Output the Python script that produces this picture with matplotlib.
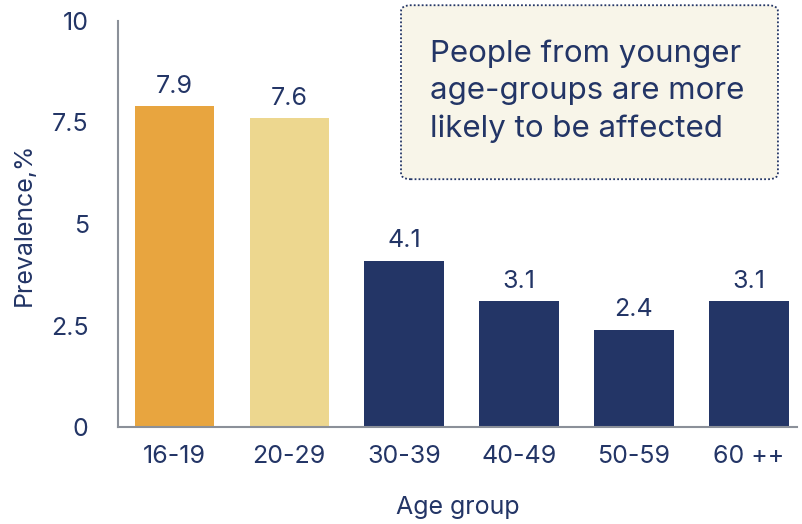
import matplotlib
matplotlib.use("Agg")
import matplotlib.pyplot as plt
from matplotlib.patches import FancyBboxPatch

plt.rcParams.update({
    "font.family": ["Inter", "DejaVu Sans"],
    "figure.facecolor": "white",
    "axes.facecolor": "white",
})

NAVY = "#233566"
AXIS_GRAY = "#8b9099"

age_groups = ["16-19", "20-29", "30-39", "40-49", "50-59", "60 ++"]
prevalence = [7.9, 7.6, 4.1, 3.1, 2.4, 3.1]
bar_colors = ["#E8A53F", "#EDD78F", NAVY, NAVY, NAVY, NAVY]
y_ticks = [0, 2.5, 5, 7.5, 10]
y_tick_labels = ["0", "2.5", "5", "7.5", "10"]

fig = plt.figure(figsize=(8.02, 5.24), dpi=100)
ax = fig.add_axes([0.147, 0.185, 0.847, 0.775])

x = range(len(age_groups))
bars = ax.bar(x, prevalence, width=0.69, color=bar_colors, edgecolor="none")

for bar, val in zip(bars, prevalence):
    ax.annotate(f"{val:.1f}", (bar.get_x() + bar.get_width() / 2, val),
                textcoords="offset points", xytext=(0, 6), ha="center",
                va="bottom", fontsize=18, color=NAVY)

ax.set_xlim(-0.49, 5.42)
ax.set_ylim(0, 10)
ax.set_xticks(list(x))
ax.set_xticklabels(age_groups)
ax.set_yticks(y_ticks)
ax.set_yticklabels(y_tick_labels)
ax.tick_params(axis="both", length=0, labelsize=18, colors=NAVY)
ax.tick_params(axis="x", pad=13)
ax.tick_params(axis="y", pad=21)

for side in ("top", "right"):
    ax.spines[side].set_visible(False)
for side in ("left", "bottom"):
    ax.spines[side].set_color(AXIS_GRAY)
    ax.spines[side].set_linewidth(1.5)

ax.set_xlabel("Age group", fontsize=18, color=NAVY, labelpad=20)
ax.set_ylabel("Prevalence,%", fontsize=18, color=NAVY, labelpad=11)

# callout box
box = FancyBboxPatch((0.5, 0.658), 0.47, 0.332, transform=fig.transFigure,
                     boxstyle="round,pad=0,rounding_size=0.012",
                     facecolor="#F8F5E9", edgecolor=NAVY, linewidth=1.3,
                     linestyle=(0, (1, 1.2)))
fig.patches.append(box)
fig.text(0.536, 0.826, "People from younger\nage-groups are more\nlikely to be affected",
         fontsize=22.5, color=NAVY, ha="left", va="center", linespacing=1.42)

fig.savefig("out.png", dpi=100, facecolor="white")
